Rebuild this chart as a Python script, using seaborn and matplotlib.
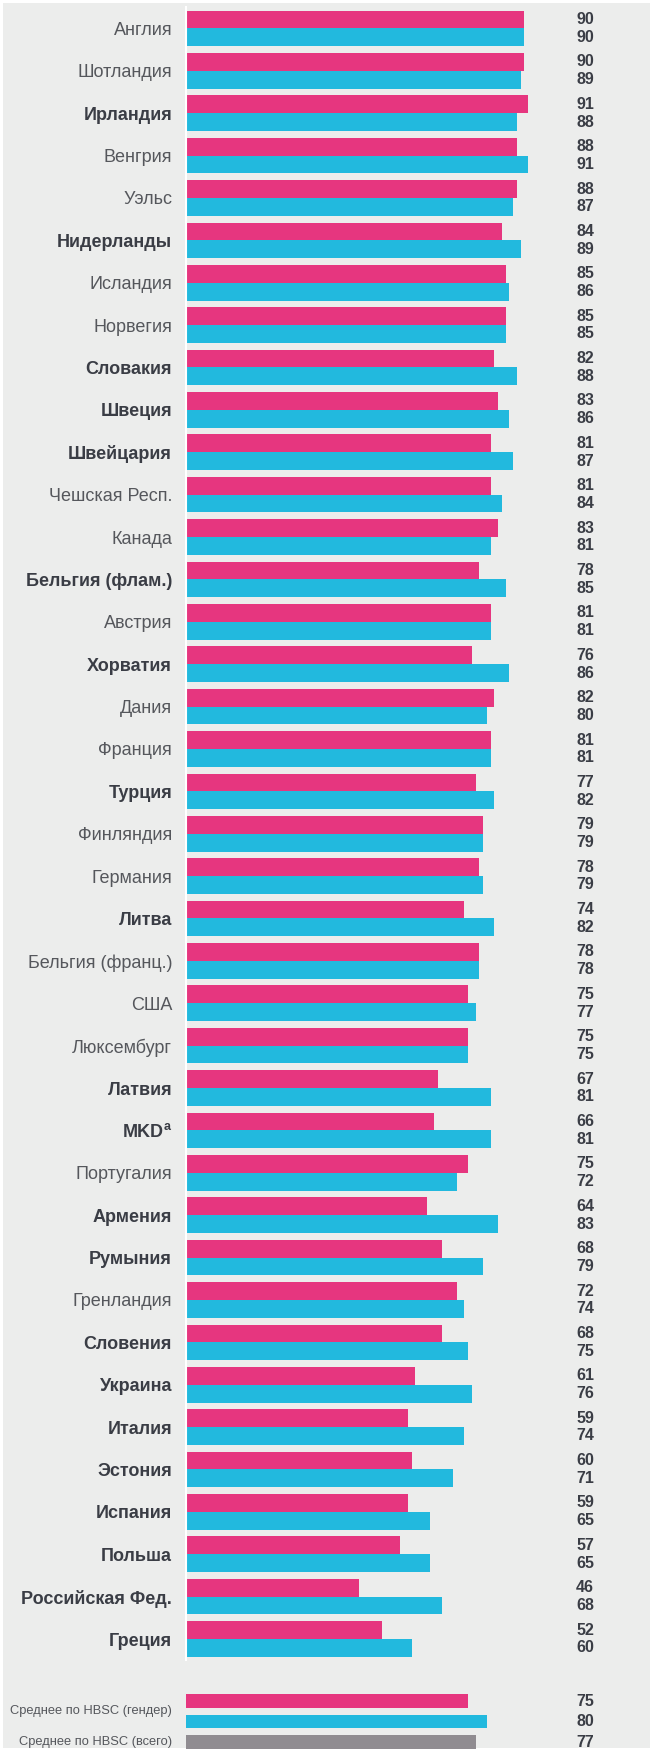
import pandas as pd
import matplotlib.pyplot as plt
import seaborn as sns


# =========================================================
# DATA
# =========================================================

countries = [
    "Англия", "Шотландия", "Ирландия", "Венгрия", "Уэльс",
    "Нидерланды", "Исландия", "Норвегия", "Словакия", "Швеция",
    "Швейцария", "Чешская Респ.", "Канада", "Бельгия (флам.)", "Австрия",
    "Хорватия", "Дания", "Франция", "Турция", "Финляндия",
    "Германия", "Литва", "Бельгия (франц.)", "США", "Люксембург",
    "Латвия", "MKD$^\\mathregular{a}$", "Португалия", "Армения", "Румыния",
    "Гренландия", "Словения", "Украина", "Италия", "Эстония",
    "Испания", "Польша", "Российская Фед.", "Греция",
]

bold_countries = [
    "Ирландия", "Нидерланды", "Словакия", "Швеция", "Швейцария",
    "Бельгия (флам.)", "Хорватия", "Турция", "Литва", "Латвия",
    "MKD$^\\mathregular{a}$", "Армения", "Румыния", "Словения", "Украина",
    "Италия", "Эстония", "Испания", "Польша", "Российская Фед.", "Греция",
]

girls = [
    90, 90, 91, 88, 88, 84, 85, 85, 82, 83,
    81, 81, 83, 78, 81, 76, 82, 81, 77, 79,
    78, 74, 78, 75, 75, 67, 66, 75, 64, 68,
    72, 68, 61, 59, 60, 59, 57, 46, 52,
]

boys = [
    90, 89, 88, 91, 87, 89, 86, 85, 88, 86,
    87, 84, 81, 85, 81, 86, 80, 81, 82, 79,
    79, 82, 78, 77, 75, 81, 81, 72, 83, 79,
    74, 75, 76, 74, 71, 65, 65, 68, 60,
]

avg_names = ["Среднее (девочки)", "Среднее (мальчики)", "Среднее (всего)"]
avg_values = [75, 80, 77]
avg_labels = ["Среднее по HBSC (гендер)", "Среднее по HBSC (всего)"]

sex_names = ["Девочки", "Мальчики"]


# =========================================================
# STYLE
# =========================================================

PINK = "#E6367F"
CYAN = "#22B9DE"
GREY = "#908C91"
BG = "#ECEDEC"
TXT_REG = "#55575C"
TXT_BOLD = "#3A3D45"

sns.set_theme(style="white")
plt.rcParams["font.family"] = ["Liberation Sans", "DejaVu Sans"]
plt.rcParams["mathtext.default"] = "regular"

W, H = 653, 1751
X0 = 186          # pixel where value 0 sits
PPU = 3.76        # pixels per unit
XMAX = (W - X0) / PPU
VAL_X = (585 - X0) / PPU
LABEL_PAD = 10    # points between labels and bars

df = pd.DataFrame({
    "country": countries * 2,
    "value": girls + boys,
    "sex": [sex_names[0]] * len(countries) + [sex_names[1]] * len(countries),
})

fig = plt.figure(figsize=(W / 100, H / 100), dpi=100, facecolor=BG)
fig.patch.set_edgecolor("white")
fig.patch.set_linewidth(3)


# =========================================================
# COUNTRIES
# =========================================================

top_px, bottom_px = 7.2, 1660.2
ax = fig.add_axes([X0 / W, 1 - bottom_px / H, (W - X0) / W, (bottom_px - top_px) / H])

sns.barplot(
    data=df, y="country", x="value", hue="sex",
    palette=[PINK, CYAN], width=0.84, gap=0, saturation=1,
    errorbar=None, legend=False, orient="h", linewidth=0, ax=ax,
)

ax.set_xlim(0, XMAX)
ax.set_facecolor("none")
ax.set_xlabel("")
ax.set_ylabel("")
ax.set_xticks([])
ax.tick_params(axis="y", length=0, pad=LABEL_PAD, labelsize=13)

for side in ["top", "right", "bottom"]:
    ax.spines[side].set_visible(False)
ax.spines["left"].set_color("white")
ax.spines["left"].set_linewidth(1.5)

for lbl in ax.get_yticklabels():
    if lbl.get_text() in bold_countries:
        lbl.set_fontweight("bold")
        lbl.set_color(TXT_BOLD)
    else:
        lbl.set_color(TXT_REG)

for container, vals in zip(ax.containers, [girls, boys]):
    for bar, v in zip(container, vals):
        ax.text(
            VAL_X, bar.get_y() + bar.get_height() / 2, str(v),
            ha="center", va="center", fontsize=11.5,
            fontweight="bold", color=TXT_BOLD,
        )


# =========================================================
# HBSC AVERAGES
# =========================================================

pitch = 20.5
a_top = 1701 - pitch / 2
a_bot = a_top + 3 * pitch
ax2 = fig.add_axes([X0 / W, 1 - a_bot / H, (W - X0) / W, (a_bot - a_top) / H])

sns.barplot(
    x=avg_values, y=avg_names, hue=avg_names,
    palette=[PINK, CYAN, GREY], width=0.64, saturation=1,
    errorbar=None, legend=False, orient="h", linewidth=0, ax=ax2,
)

ax2.set_xlim(0, XMAX)
ax2.set_facecolor("none")
ax2.set_xticks([])
ax2.set_yticks([])
for side in ["top", "right", "bottom", "left"]:
    ax2.spines[side].set_visible(False)

label_x = -14 / PPU
ax2.text(label_x, 0.5, avg_labels[0], ha="right", va="center",
         fontsize=9.3, color=TXT_REG, clip_on=False)
ax2.text(label_x, 2, avg_labels[1], ha="right", va="center",
         fontsize=9.3, color=TXT_REG, clip_on=False)

for bar, v in zip(ax2.patches, avg_values):
    ax2.text(
        VAL_X, bar.get_y() + bar.get_height() / 2, str(v),
        ha="center", va="center", fontsize=11.5,
        fontweight="bold", color=TXT_BOLD,
    )

fig.savefig("out.png", dpi=100, facecolor=BG, edgecolor="white")
